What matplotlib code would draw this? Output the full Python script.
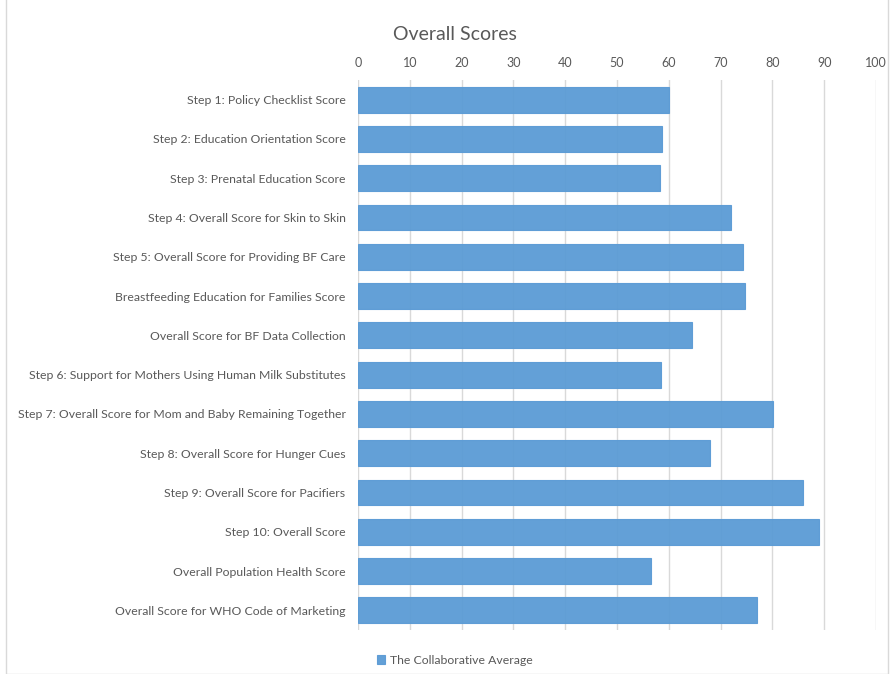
import matplotlib.pyplot as plt
from matplotlib.patches import Rectangle

categories = [
    "Step 1: Policy Checklist Score",
    "Step 2: Education Orientation Score",
    "Step 3: Prenatal Education Score",
    "Step 4: Overall Score for Skin to Skin",
    "Step 5: Overall Score for Providing BF Care",
    "Breastfeeding Education for Families Score",
    "Overall Score for BF Data Collection",
    "Step 6: Support for Mothers Using Human Milk Substitutes",
    "Step 7: Overall Score for Mom and Baby Remaining Together",
    "Step 8: Overall Score for Hunger Cues",
    "Step 9: Overall Score for Pacifiers",
    "Step 10: Overall Score",
    "Overall Population Health Score",
    "Overall Score for WHO Code of Marketing",
]
scores = [60.0, 58.6, 58.3, 72.1, 74.4, 74.7, 64.4, 58.5, 80.2, 68.0, 86.0, 89.0, 56.6, 77.0]
xticks = list(range(0, 101, 10))

plt.rcParams['font.family'] = ['Lato', 'DejaVu Sans']
text_color = '#595959'

fig = plt.figure(figsize=(8.9, 6.74), dpi=100)
ax = fig.add_axes([358 / 890, 1 - 630 / 674, 518 / 890, 550 / 674])

# chart frame like the spreadsheet export
fig.patches.append(Rectangle((6 / 890, 0), 882 / 890, 1.2, transform=fig.transFigure,
                             fill=False, edgecolor='#d9d9d9', lw=1))

ypos = list(range(len(categories)))
ax.barh(ypos, scores, height=0.66, color='#5B9BD5', alpha=0.95,
        edgecolor='#5b9bd5', lw=0.8, zorder=2, label='The Collaborative Average')

ax.set_xlim(0, 100)
ax.set_ylim(len(categories) - 0.5, -0.5)
ax.set_xticks(xticks)
ax.set_yticks(ypos)
ax.set_yticklabels(categories)
ax.xaxis.tick_top()
ax.tick_params(axis='x', length=0, pad=8, labelsize=9, colors=text_color)
ax.tick_params(axis='y', length=0, pad=9, labelsize=8.8, colors=text_color)
ax.grid(axis='x', color='#d9d9d9', lw=1, zorder=1)
for s in ax.spines.values():
    s.set_visible(False)

fig.text(455 / 890, 1 - 34 / 674, 'Overall Scores', ha='center', va='center',
         fontsize=14, color=text_color)

fig.legend(loc='center', bbox_to_anchor=(455 / 890, 1 - 660 / 674), frameon=False,
           fontsize=8.8, handlelength=0.7, handleheight=0.7, handletextpad=0.4,
           labelcolor=text_color)

plt.savefig("out.png", dpi=100)
